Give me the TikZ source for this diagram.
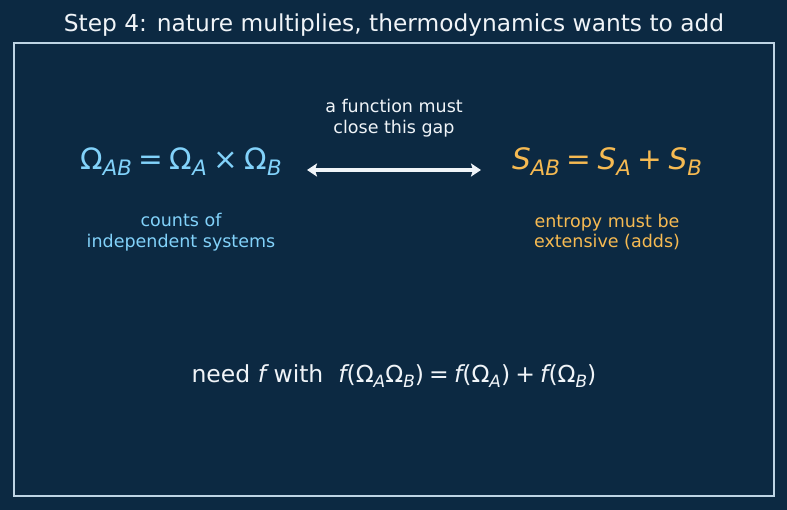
\documentclass[tikz,border=0pt]{standalone}
\usepackage{fontspec}
\setmainfont{DejaVu Sans}
\usepackage{xcolor}
\usepackage{tikz}
\usetikzlibrary{arrows.meta,positioning}
\definecolor{bgnavy}{RGB}{12,41,66}
\definecolor{framegray}{RGB}{190,212,228}
\definecolor{countblue}{RGB}{130,210,250}
\definecolor{entorange}{RGB}{246,186,82}
\definecolor{plainwhite}{RGB}{240,244,248}
\newcommand{\sbx}[1]{\raisebox{-0.2em}{\fontsize{0.72\dimexpr\fontdimen6\font}{0pt}\selectfont\itshape #1}}
\newcommand{\iv}[1]{{\itshape #1}}
\newcommand{\op}[1]{\hspace{0.22em}#1\hspace{0.22em}}
\tikzset{
  eqtext/.style={font=\fontsize{29.5}{34}\selectfont,inner sep=0pt},
  notetext/.style={font=\fontsize{17.5}{20.5}\selectfont,align=center,inner sep=0pt},
}
\begin{document}
\begin{tikzpicture}[x=1pt,y=-1pt]
\path[fill=bgnavy](0,0)rectangle(787,510);
\draw[framegray,line width=1.5pt](14,43)rectangle(774,496);
\node[plainwhite,font=\fontsize{23.3}{27}\selectfont,inner sep=0pt](title)at(394,25){Step 4: nature multiplies, thermodynamics wants to add};
\node[eqtext,countblue](omega)at(181,162){Ω\sbx{AB}\op{=}Ω\sbx{A}\op{×}Ω\sbx{B}};
\node[notetext,countblue](counts)at(181,232){counts of\\independent systems};
\node[eqtext,entorange](entropy)at(607,162){\iv{S}\sbx{AB}\op{=}\iv{S}\sbx{A}\op{+}\iv{S}\sbx{B}};
\node[notetext,entorange](extensive)at(607,232){entropy must be\\extensive (adds)};
\node[notetext,plainwhite](gap)at(394,118){a function must\\close this gap};
\coordinate(gapL)at(307,170);
\coordinate(gapR)at(481,170);
\draw[plainwhite,line width=3.2pt,{Stealth[length=10pt,width=13pt,inset=2pt]}-{Stealth[length=10pt,width=13pt,inset=2pt]}](gapL)--(gapR);
\node[plainwhite,font=\fontsize{23.5}{27}\selectfont,inner sep=0pt](need)at(394,376){need \iv{f} with\ \ \iv{f}(Ω\sbx{A}Ω\sbx{B})\op{=}\iv{f}(Ω\sbx{A})\op{+}\iv{f}(Ω\sbx{B})};
\end{tikzpicture}
\end{document}
